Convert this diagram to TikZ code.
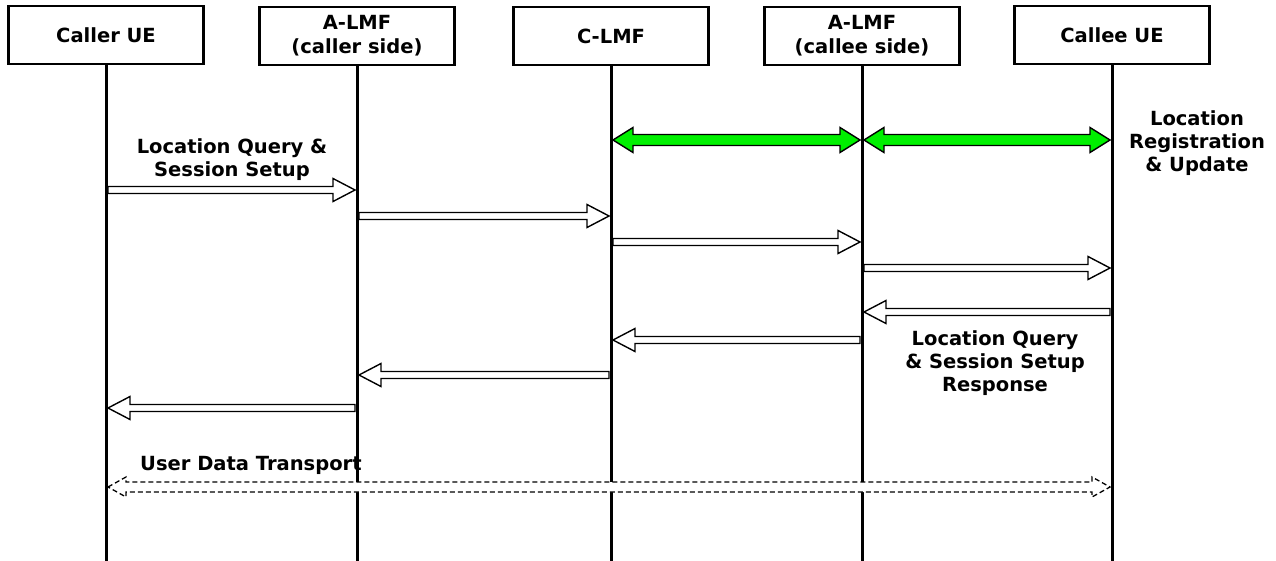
\documentclass[tikz,border=0pt]{standalone}
\usepackage{fontspec}
\setmainfont{DejaVu Sans}
\usetikzlibrary{calc}
\definecolor{lgreen}{RGB}{0,240,0}
% single-headed block arrow: style, from, to, shaft half, head half, head length
\newcommand\sarrow[6]{%
 \draw[#1] let \p1=(#2), \p2=(#3), \n1={sign(\x2-\x1)}, \n2={\x1+\n1*2pt}, \n3={\x2-\n1*2pt}, \n4={\n3-\n1*#6pt} in
 (\n2,\y1+#4pt) -- (\n4,\y1+#4pt) -- (\n4,\y1+#5pt) -- (\n3,\y1) -- (\n4,\y1-#5pt) -- (\n4,\y1-#4pt) -- (\n2,\y1-#4pt) -- cycle;}
% double-headed block arrow
\newcommand\darrow[6]{%
 \draw[#1] let \p1=(#2), \p2=(#3), \n1={sign(\x2-\x1)}, \n2={\x1+\n1*2pt}, \n3={\x2-\n1*2pt}, \n4={\n3-\n1*#6pt}, \n5={\n2+\n1*#6pt} in
 (\n2,\y1) -- (\n5,\y1+#5pt) -- (\n5,\y1+#4pt) -- (\n4,\y1+#4pt) -- (\n4,\y1+#5pt) -- (\n3,\y1) -- (\n4,\y1-#5pt) -- (\n4,\y1-#4pt) -- (\n5,\y1-#4pt) -- (\n5,\y1-#5pt) -- cycle;}
\begin{document}
\begin{tikzpicture}[x=1pt,y=-1pt,
  every node/.style={font=\fontsize{19.5}{23}\selectfont\bfseries, inner sep=0pt},
  entity/.style={draw, line width=2.8pt, minimum width=195pt, minimum height=58pt, align=center, fill=white},
  life/.style={line width=3pt},
  msg/.style={draw, line width=1.4pt, fill=white, line join=miter},
  sync/.style={draw, line width=1.4pt, fill=lgreen, line join=miter},
  data/.style={draw, line width=1.3pt, fill=white, dash pattern=on 5pt off 3pt},
  lbl/.style={align=center}]
\useasboundingbox (0,0) rectangle (1276,561);
\fill[white] (0,0) rectangle (1276,561);
% entities
\node[entity] (cue) at (106,35) {Caller UE};
\node[entity] (alr) at (357,36) {A-LMF\\[1pt](caller side)};
\node[entity] (clm) at (611,36) {C-LMF};
\node[entity] (ale) at (862,36) {A-LMF\\[1pt](callee side)};
\node[entity] (eue) at (1112,35) {Callee UE};
% lifelines
\foreach \e in {cue,alr,clm,ale,eue}{
  \coordinate (\e-end) at (\e |- 0,561);
  \draw[life] (\e.south) -- (\e-end);
}
% message points
\coordinate (g1a) at (clm |- 0,140); \coordinate (g1b) at (ale |- 0,140);
\coordinate (g2a) at (ale |- 0,140); \coordinate (g2b) at (eue |- 0,140);
\coordinate (m1a) at (cue |- 0,190); \coordinate (m1b) at (alr |- 0,190);
\coordinate (m2a) at (alr |- 0,216); \coordinate (m2b) at (clm |- 0,216);
\coordinate (m3a) at (clm |- 0,242); \coordinate (m3b) at (ale |- 0,242);
\coordinate (m4a) at (ale |- 0,268); \coordinate (m4b) at (eue |- 0,268);
\coordinate (m5a) at (eue |- 0,312); \coordinate (m5b) at (ale |- 0,312);
\coordinate (m6a) at (ale |- 0,340); \coordinate (m6b) at (clm |- 0,340);
\coordinate (m7a) at (clm |- 0,375); \coordinate (m7b) at (alr |- 0,375);
\coordinate (m8a) at (alr |- 0,408); \coordinate (m8b) at (cue |- 0,408);
\coordinate (da) at (cue |- 0,487); \coordinate (db) at (eue |- 0,487);
% location registration (green)
\darrow{sync}{g1a}{g1b}{5.5}{12.5}{20}
\darrow{sync}{g2a}{g2b}{5.5}{12.5}{20}
% query and response messages
\sarrow{msg}{m1a}{m1b}{3.5}{11.5}{22}
\sarrow{msg}{m2a}{m2b}{3.5}{11.5}{22}
\sarrow{msg}{m3a}{m3b}{3.5}{11.5}{22}
\sarrow{msg}{m4a}{m4b}{3.5}{11.5}{22}
\sarrow{msg}{m5a}{m5b}{3.5}{11.5}{22}
\sarrow{msg}{m6a}{m6b}{3.5}{11.5}{22}
\sarrow{msg}{m7a}{m7b}{3.5}{11.5}{22}
\sarrow{msg}{m8a}{m8b}{3.5}{11.5}{22}
% user data transport
\darrow{data}{da}{db}{5}{10}{18}
% labels
\node[lbl] (lq) at (232,160) {Location Query \&\\Session Setup};
\node[lbl] (lr) at (1197,143) {Location\\Registration\\\& Update};
\node[lbl] (lresp) at (995,363) {Location Query\\\& Session Setup\\Response};
\node[anchor=west] (ud) at (140,465) {User Data Transport};
\end{tikzpicture}
\end{document}
